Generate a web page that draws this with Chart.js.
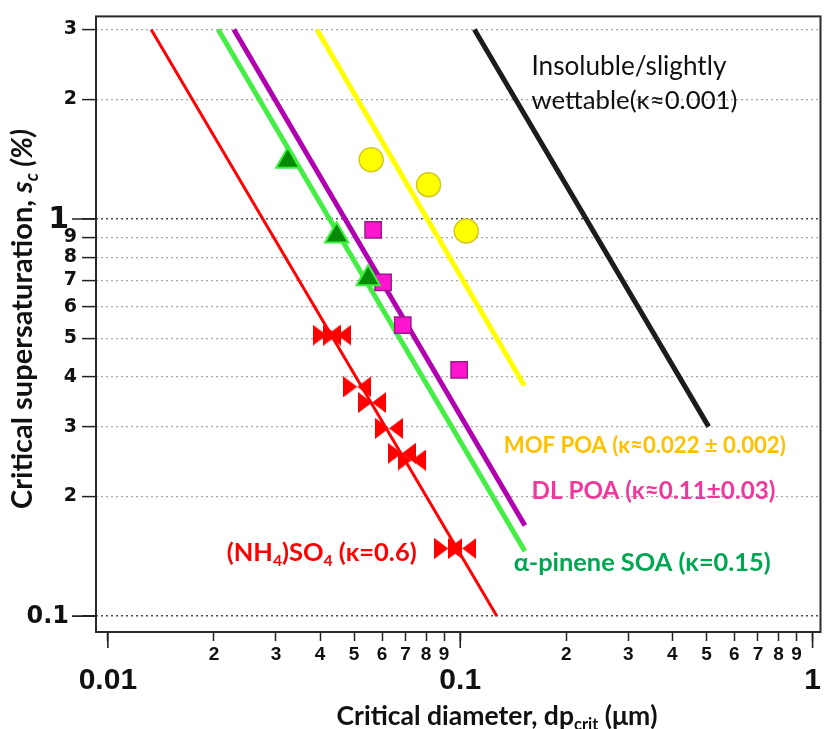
<!DOCTYPE html>
<html>
<head>
<meta charset="utf-8">
<script src="https://cdn.jsdelivr.net/npm/chart.js@4.4.1/dist/chart.umd.min.js"></script>
<style>
  html, body { margin: 0; padding: 0; background: #ffffff; }
  #wrap { width: 836px; height: 729px; position: relative; }
</style>
</head>
<body>
<div id="wrap"><canvas id="c" width="836" height="729"></canvas></div>
<script>
// Köhler-theory curves: straight lines on log-log axes, given by their two end points
const sulfateLineX = [0.01327, 0.127];
const sulfateLineY = [3, 0.1];
const pineneLineX = [0.02056, 0.1526];
const pineneLineY = [3, 0.1457];
const dlPoaLineX = [0.02278, 0.1526];
const dlPoaLineY = [3, 0.169];
const mofPoaLineX = [0.0392, 0.152];
const mofPoaLineY = [3, 0.381];
const insolubleLineX = [0.1097, 0.507];
const insolubleLineY = [3, 0.3];

// Measured critical diameters (µm) and critical supersaturations (%)
const sulfateX = [0.0418, 0.0448, 0.0510, 0.0562, 0.0628, 0.0683, 0.0728, 0.0925, 0.1013];
const sulfateY = [0.510, 0.510, 0.378, 0.345, 0.297, 0.257, 0.247, 0.148, 0.148];
const pineneX = [0.0324, 0.0446, 0.0548];
const pineneY = [1.40, 0.907, 0.708];
const dlPoaX = [0.0566, 0.0604, 0.0687, 0.0993];
const dlPoaY = [0.939, 0.692, 0.540, 0.417];
const mofPoaX = [0.0559, 0.0813, 0.104];
const mofPoaY = [1.41, 1.22, 0.933];

// Axis ticks and their labels
const xTickValues = [0.01, 0.02, 0.03, 0.04, 0.05, 0.06, 0.07, 0.08, 0.09,
                     0.1, 0.2, 0.3, 0.4, 0.5, 0.6, 0.7, 0.8, 0.9, 1];
const xTickLabels = ['0.01', '2', '3', '4', '5', '6', '7', '8', '9',
                     '0.1', '2', '3', '4', '5', '6', '7', '8', '9', '1'];
const yTickValues = [0.1, 0.2, 0.3, 0.4, 0.5, 0.6, 0.7, 0.8, 0.9, 1, 2, 3];
const yTickLabels = ['0.1', '2', '3', '4', '5', '6', '7', '8', '9', '1', '2', '3'];
const majorValues = [0.01, 0.1, 1];

const isMajor = v => majorValues.some(m => Math.abs(v / m - 1) < 1e-6);
const toPoints = (xs, ys) => xs.map((x, i) => ({ x: x, y: ys[i] }));

// Bow-tie marker for the ammonium sulfate calibration points
function makeBowtie(w, h, color) {
  const cv = document.createElement('canvas');
  cv.width = w; cv.height = h;
  const g = cv.getContext('2d');
  g.fillStyle = color;
  g.beginPath();
  g.moveTo(0, 0); g.lineTo(w / 2, h / 2); g.lineTo(0, h); g.closePath();
  g.moveTo(w, 0); g.lineTo(w / 2, h / 2); g.lineTo(w, h); g.closePath();
  g.fill();
  return cv;
}
const bowtie = makeBowtie(28, 21, '#ff0000');

// Rich text helpers (subscripts / italics)
const LABEL_FONT = 'Lato, "Open Sans", "Liberation Sans", sans-serif';
const TICK_FONT_Y = '"DejaVu Sans", sans-serif';
function partFont(p, size, weight) {
  const s = p.sub ? size * 0.62 : size;
  return (p.italic ? 'italic ' : '') + weight + ' ' + s.toFixed(2) + 'px ' + LABEL_FONT;
}
function richWidth(ctx, parts, size, weight) {
  let w = 0;
  parts.forEach(p => { ctx.font = partFont(p, size, weight); w += ctx.measureText(p.t).width; });
  return w;
}
function drawRich(ctx, parts, x, y, o) {
  let size = o.size;
  if (o.width) size = size * o.width / richWidth(ctx, parts, size, o.weight);
  const total = richWidth(ctx, parts, size, o.weight);
  let cx = o.center ? x - total / 2 : x;
  const base = y + size * 0.34;
  ctx.fillStyle = o.color;
  ctx.textAlign = 'left';
  ctx.textBaseline = 'alphabetic';
  parts.forEach(p => {
    ctx.font = partFont(p, size, o.weight);
    ctx.fillText(p.t, cx, p.sub ? base + size * 0.2 : base);
    cx += ctx.measureText(p.t).width;
  });
}

// In-plot labels, anchored at their left edge / vertical middle in data units
const annotations = [
  { parts: [{ t: 'Insoluble/slightly' }], x: 0.1593, y: 2.42, color: '#111111', weight: 'normal', size: 22, width: 195 },
  { parts: [{ t: 'wettable(κ≈0.001)' }], x: 0.1593, y: 1.99, color: '#111111', weight: 'normal', size: 22, width: 206 },
  { parts: [{ t: 'MOF POA (κ≈0.022 ± 0.002)' }], x: 0.1329, y: 0.2692, color: '#ffc000', weight: 'bold', size: 20, width: 282 },
  { parts: [{ t: 'DL POA (κ≈0.11±0.03)' }], x: 0.1593, y: 0.2065, color: '#f0379b', weight: 'bold', size: 20, width: 244 },
  { parts: [{ t: '(NH' }, { t: '4', sub: true }, { t: ')SO' }, { t: '4', sub: true }, { t: ' (κ=0.6)' }],
    x: 0.02174, y: 0.1445, color: '#ff0000', weight: 'bold', size: 20, width: 190 },
  { parts: [{ t: 'α-pinene SOA (κ=0.15)' }], x: 0.1418, y: 0.1365, color: '#00a651', weight: 'bold', size: 20, width: 257 }
];

// Decade labels of the y axis sit further out, next to their longer tick marks
const yDecadeLabels = [
  { value: 1, text: '1', size: 30 },
  { value: 0.1, text: '0.1', size: 24 }
];

const decorPlugin = {
  id: 'decor',
  afterDraw(chart) {
    const { ctx, chartArea: a, scales: { x, y } } = chart;
    ctx.save();
    // plot frame
    ctx.strokeStyle = '#2a2a2a';
    ctx.lineWidth = 2;
    ctx.strokeRect(a.left, a.top, a.right - a.left, a.bottom - a.top);
    // longer tick marks at the decades
    ctx.strokeStyle = '#222222';
    ctx.lineWidth = 1.6;
    ctx.beginPath();
    majorValues.forEach(v => {
      const px = x.getPixelForValue(v);
      ctx.moveTo(px, a.bottom + 1); ctx.lineTo(px, a.bottom + 16);
    });
    yDecadeLabels.forEach(d => {
      const py = y.getPixelForValue(d.value);
      ctx.moveTo(a.left - 24, py); ctx.lineTo(a.left, py);
    });
    ctx.stroke();
    ctx.fillStyle = '#111111';
    ctx.textAlign = 'right';
    ctx.textBaseline = 'middle';
    yDecadeLabels.forEach(d => {
      ctx.font = 'bold ' + d.size + 'px ' + TICK_FONT_Y;
      ctx.fillText(d.text, a.left - 27, y.getPixelForValue(d.value) + 1);
    });

    // in-plot labels
    annotations.forEach(an => {
      drawRich(ctx, an.parts, x.getPixelForValue(an.x), y.getPixelForValue(an.y), an);
    });

    // axis titles
    drawRich(ctx, [{ t: 'Critical diameter, dp' }, { t: 'crit', sub: true }, { t: ' (μm)' }],
      497, 716, { size: 22, weight: 'bold', color: '#111111', width: 321, center: true });
    ctx.translate(22, 319);
    ctx.rotate(-Math.PI / 2);
    drawRich(ctx, [{ t: 'Critical supersaturation, ' }, { t: 's', italic: true }, { t: 'c', italic: true, sub: true }, { t: ' (%)', italic: true }],
      0, 0, { size: 22, weight: 'bold', color: '#111111', width: 380, center: true });
    ctx.restore();
  }
};

const lineDataset = (label, xs, ys, color, width) => ({
  type: 'line', label: label, data: toPoints(xs, ys),
  borderColor: color, borderWidth: width, pointRadius: 0, fill: false,
  tension: 0, order: 10, borderCapStyle: 'butt'
});

new Chart(document.getElementById('c'), {
  type: 'scatter',
  data: {
    datasets: [
      lineDataset('Insoluble / slightly wettable', insolubleLineX, insolubleLineY, '#1c1c1c', 5),
      lineDataset('MOF POA', mofPoaLineX, mofPoaLineY, '#ffff00', 5),
      lineDataset('DL POA', dlPoaLineX, dlPoaLineY, '#b000b0', 5),
      lineDataset('α-pinene SOA', pineneLineX, pineneLineY, '#44ee44', 5),
      lineDataset('(NH4)SO4', sulfateLineX, sulfateLineY, '#ff0000', 3),
      { label: 'MOF POA data', data: toPoints(mofPoaX, mofPoaY), pointStyle: 'circle', pointRadius: 12,
        backgroundColor: '#ffff00', borderColor: '#d2c81e', borderWidth: 1.5, order: 1 },
      { label: 'DL POA data', data: toPoints(dlPoaX, dlPoaY), pointStyle: 'rect', pointRadius: 11.5,
        backgroundColor: '#ff14cf', borderColor: '#9a1a8c', borderWidth: 1.5, order: 1 },
      { label: 'α-pinene SOA data', data: toPoints(pineneX, pineneY), pointStyle: 'triangle', pointRadius: 13.5,
        backgroundColor: '#078a07', borderColor: '#3cf03c', borderWidth: 2, order: 0 },
      { label: '(NH4)SO4 data', data: toPoints(sulfateX, sulfateY), pointStyle: bowtie, pointRadius: 12,
        backgroundColor: '#ff0000', borderColor: '#ff0000', order: 0 }
    ]
  },
  options: {
    responsive: false,
    animation: false,
    layout: { padding: { top: 12, right: 8, left: 0, bottom: 0 } },
    plugins: { legend: { display: false }, tooltip: { enabled: false } },
    scales: {
      x: {
        type: 'logarithmic', position: 'bottom',
        min: 0.009253, max: 1.0532,
        afterBuildTicks: s => { s.ticks = xTickValues.map(v => ({ value: v })); },
        afterFit: s => { s.height = 97; },
        border: { display: false },
        grid: { drawOnChartArea: false, drawTicks: true, tickLength: 9, tickColor: '#222222', tickWidth: 1.5 },
        ticks: {
          autoSkip: false, maxRotation: 0, minRotation: 0, padding: 4, color: '#111111',
          callback: (v, i) => isMajor(v) ? ['', xTickLabels[i]] : xTickLabels[i],
          font: c => isMajor(c.tick.value)
            ? { family: '"Liberation Sans Narrow", "Liberation Sans", Arial, sans-serif', size: 30, weight: 'bold', lineHeight: 0.8 }
            : { family: '"Liberation Sans Narrow", "Liberation Sans", Arial, sans-serif', size: 19, weight: 'bold', lineHeight: 1.0 }
        }
      },
      y: {
        type: 'logarithmic', position: 'left',
        min: 0.0912, max: 3.236,
        afterBuildTicks: s => { s.ticks = yTickValues.map(v => ({ value: v })); },
        afterFit: s => { s.width = 96; },
        border: { display: false, dash: [2, 3] },
        grid: {
          drawOnChartArea: true, drawTicks: true, tickLength: 14,
          color: c => isMajor(c.tick.value) ? '#4a4a4a' : '#a6a6a6',
          lineWidth: c => isMajor(c.tick.value) ? 1.6 : 1.2,
          tickColor: '#222222', tickWidth: 1.5
        },
        ticks: {
          autoSkip: false, padding: 5, color: '#111111',
          callback: (v, i) => isMajor(v) ? '' : yTickLabels[i],
          font: { family: TICK_FONT_Y, size: 19, weight: 'bold' }
        }
      }
    }
  },
  plugins: [decorPlugin]
});
</script>
</body>
</html>
